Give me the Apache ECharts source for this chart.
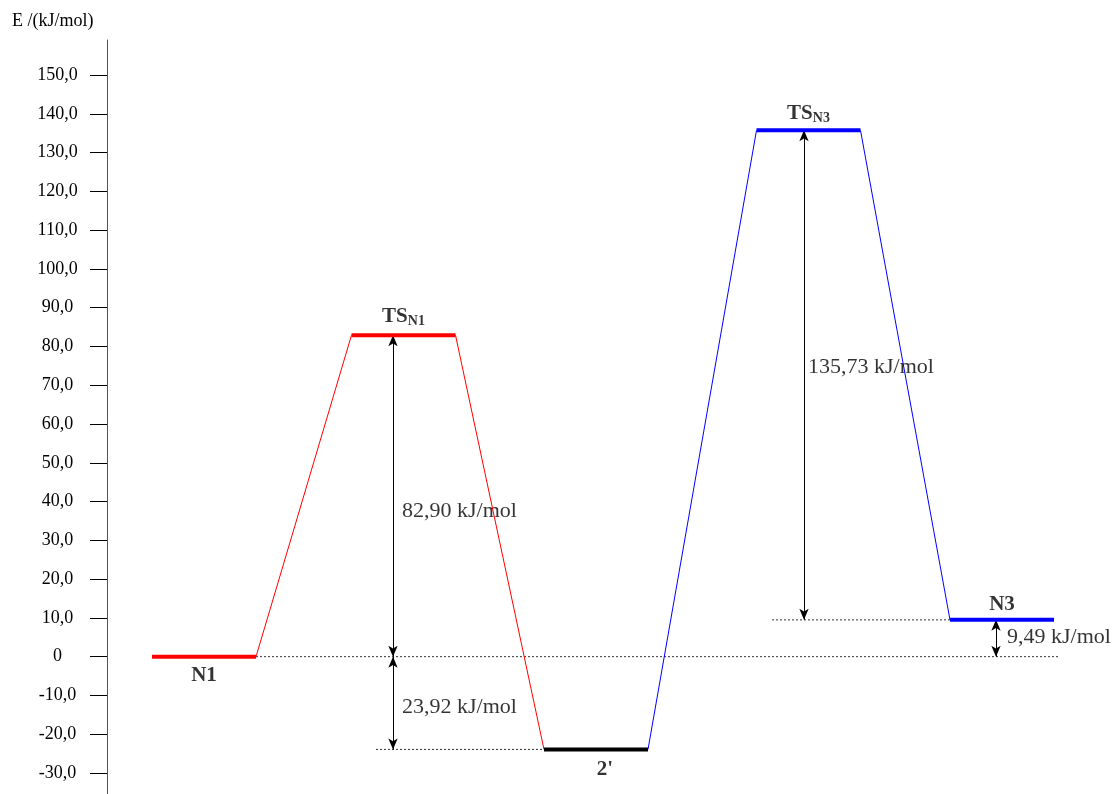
<!DOCTYPE html>
<html>
<head>
<meta charset="utf-8">
<title>Energy profile</title>
<script src="https://cdn.jsdelivr.net/npm/echarts@6/dist/echarts.min.js"></script>
<style>
  html, body { margin: 0; padding: 0; background: #fff; }
  #chart { width: 1115px; height: 794px; }
</style>
</head>
<body>
<div id="chart"></div>
<script>
// Stationary points along the reaction path and their energies (kJ/mol)
const states = ['N1', 'TS_N1', "2'", 'TS_N3', 'N3'];
const energies = [0, 82.90, -23.92, 135.73, 9.49];

// Energy gaps marked by double arrows: from state index -> to state index
const gapFrom = [0, 0, 4, 0];
const gapTo = [1, 2, 3, 4];
const gapLabels = ['82,90 kJ/mol', '23,92 kJ/mol', '135,73 kJ/mol', '9,49 kJ/mol'];

// Y axis ticks
const yTicks = [-30, -20, -10, 0, 10, 20, 30, 40, 50, 60, 70, 80, 90, 100, 110, 120, 130, 140, 150];

// Layout: slot centres of the levels on a hidden 0..10 x scale
const slotCenters = [0.97, 2.965, 4.89, 7.015, 8.95];
const halfWidth = 0.52;
const center = i => slotCenters[i];
const levelColors = ['#ff0000', '#ff0000', '#000000', '#0000ff', '#0000ff'];
const connectorColors = ['#ff0000', '#ff0000', '#0000ff', '#0000ff'];
const arrowShift = [-0.105, -0.105, -0.045, -0.06];
const arrowAt = [1, 1, 3, 4];
const SERIF = '"Liberation Serif", "Times New Roman", serif';

const series = [];

// Horizontal energy levels
states.forEach((s, i) => {
  series.push({
    type: 'line', silent: true, symbol: 'none', animation: false, z: 5,
    data: [[center(i) - halfWidth, energies[i]], [center(i) + halfWidth, energies[i]]],
    lineStyle: { width: 4, color: levelColors[i], cap: 'butt' }
  });
});

// Thin connectors between consecutive levels
for (let i = 0; i < states.length - 1; i++) {
  series.push({
    type: 'line', silent: true, symbol: 'none', animation: false, z: 4,
    data: [[center(i) + halfWidth, energies[i]], [center(i + 1) - halfWidth, energies[i + 1]]],
    lineStyle: { width: 1, color: connectorColors[i] }
  });
}

const arrowX = gapFrom.map((f, k) => center(arrowAt[k]) + arrowShift[k]);

// Dotted reference lines
const refLines = [
  [[center(0) + halfWidth, energies[0]], [center(4) + halfWidth + 0.06, energies[0]]],
  [[arrowX[1] - 0.17, energies[2]], [center(2) - halfWidth, energies[2]]],
  [[arrowX[2] - 0.32, energies[4]], [center(4) - halfWidth, energies[4]]]
];
refLines.forEach(d => {
  series.push({
    type: 'line', silent: true, symbol: 'none', animation: false, z: 3,
    data: d,
    lineStyle: { width: 1, color: '#333', type: [2, 2] }
  });
});

// Double-headed arrows for the energy gaps
series.push({
  type: 'line', silent: true, symbol: 'none', animation: false, data: [],
  markLine: {
    silent: true, animation: false,
    symbol: ['arrow', 'arrow'], symbolSize: [7, 11],
    label: { show: false },
    lineStyle: { width: 1, color: '#000', type: 'solid' },
    data: gapFrom.map((f, k) => [
      { coord: [arrowX[k], energies[f]] },
      { coord: [arrowX[k], energies[gapTo[k]]] }
    ])
  }
});

// State labels
const stateLabel = name => {
  if (name.indexOf('TS_') === 0) return '{m|TS}{s|' + name.slice(3) + '}';
  return '{m|' + name + '}';
};
const labelAbove = [false, true, false, true, true];
const labelDist = [8, 8, 9, 6, 4];
const labelShiftX = [0, 0, 9, 0, 0];
series.push({
  type: 'scatter', silent: true, animation: false, symbolSize: 0,
  data: states.map((s, i) => ({
    value: [center(i), energies[i]],
    label: {
      show: true,
      position: labelAbove[i] ? 'top' : 'bottom',
      distance: labelDist[i],
      offset: [labelShiftX[i], 0],
      formatter: stateLabel(s),
      color: '#000', textBorderWidth: 0,
      rich: {
        m: { fontFamily: SERIF, fontWeight: 'bold', fontSize: 21, color: '#000', lineHeight: 22, textBorderWidth: 0 },
        s: { fontFamily: SERIF, fontWeight: 'bold', fontSize: 14, color: '#000', lineHeight: 14, padding: [11, 0, 0, 0], textBorderWidth: 0 }
      }
    }
  }))
});

// Gap value labels beside the arrows
const gapLabelOffset = [[9, 15], [9, 4], [4, -8], [11, -1]];
series.push({
  type: 'scatter', silent: true, animation: false, symbolSize: 0,
  data: gapFrom.map((f, k) => ({
    value: [arrowX[k], (energies[f] + energies[gapTo[k]]) / 2],
    label: {
      show: true, position: 'inside', align: 'left', verticalAlign: 'middle',
      offset: gapLabelOffset[k],
      formatter: gapLabels[k],
      fontFamily: SERIF, fontSize: 22, color: '#000', textBorderWidth: 0
    }
  }))
});

const chart = echarts.init(document.getElementById('chart'), null, { renderer: 'canvas' });
chart.setOption({
  backgroundColor: '#fff',
  animation: false,
  grid: { left: 107, right: 8, top: 40, bottom: 0, outerBoundsMode: 'none' },
  xAxis: { type: 'value', min: 0, max: 10, show: false },
  yAxis: {
    type: 'value', min: -35.42, max: 159.03,
    axisLine: { show: true, lineStyle: { color: '#555', width: 1 } },
    axisTick: { show: true, inside: false, length: 17, customValues: yTicks, lineStyle: { color: '#000', width: 1 } },
    axisLabel: {
      customValues: yTicks, margin: 49.5, align: 'center', color: '#000',
      fontFamily: SERIF, fontSize: 18,
      formatter: v => (v === 0 ? '0' : v.toFixed(1).replace('.', ','))
    },
    splitLine: { show: false }
  },
  graphic: [{
    type: 'text', left: 12, top: 12,
    style: { text: 'E /(kJ/mol)', font: '18px ' + SERIF, fill: '#000' }
  }],
  series: series
});
</script>
</body>
</html>
